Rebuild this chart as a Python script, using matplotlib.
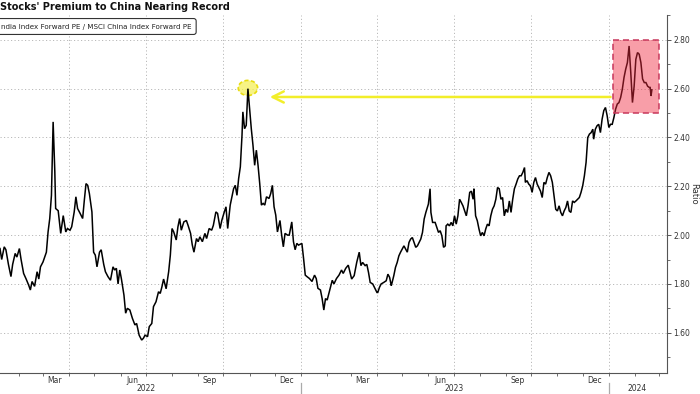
import matplotlib
matplotlib.use("Agg")
import matplotlib.pyplot as plt
import matplotlib.dates as mdates
import matplotlib.transforms as mtransforms
from matplotlib.ticker import MultipleLocator, FixedLocator, NullFormatter, FormatStrFormatter
from matplotlib.patches import Ellipse, Rectangle
import numpy as np
import pandas as pd

# ---------------- data ----------------
START = "2022-01-02"   # day offsets below are counted from this date

day_offsets = [
    7, 9, 12, 14, 17, 20, 22, 25, 27, 30,
    32, 35, 38, 41, 43, 45, 48, 51, 53, 55,
    58, 62, 64, 66, 68, 70, 72, 73, 76, 79,
    82, 85, 87, 90, 92, 95, 97, 99, 102, 105,
    107, 109, 111, 113, 116, 118, 120, 122, 125, 127,
    130, 132, 135, 138, 141, 143, 145, 147, 149, 151,
    154, 156, 158, 161, 164, 167, 169, 172, 175, 177,
    179, 182, 184, 187, 189, 192, 195, 197, 199, 201,
    204, 207, 209, 211, 213, 216, 218, 220, 222, 225,
    228, 230, 233, 235, 237, 240, 242, 244, 247, 250,
    252, 255, 258, 260, 263, 265, 268, 270, 273, 275,
    277, 280, 282, 284, 286, 288, 290, 292, 294, 295,
    297, 299, 301, 303, 305, 307, 309, 311, 313, 315,
    317, 319, 321, 323, 326, 328, 330, 332, 334, 336,
    339, 341, 343, 345, 348, 350, 353, 355, 357, 359,
    361, 365, 367, 369, 371, 374, 377, 380, 382, 384,
    387, 389, 391, 393, 395, 398, 401, 403, 406, 409,
    412, 414, 417, 420,
    424, 427, 430, 433, 435, 437, 440, 442, 444, 446,
    449, 451, 454, 455, 457, 459, 462, 465, 467, 469,
    471, 472, 474, 476, 478, 480, 482, 484, 486, 488,
    490, 492, 494, 496, 498, 500, 502, 504, 506, 508,
    510, 512, 515, 517, 518, 520, 523, 525, 527, 529,
    531, 533, 535, 536, 538, 540, 542, 544, 546, 548,
    550, 552, 554, 556, 558, 560, 562, 564, 566, 568,
    569, 571, 573, 575, 577, 579, 581, 583, 585, 587,
    589, 591, 593, 595, 597, 599, 601, 603, 605, 607,
    609, 611, 613, 615, 617, 619, 621, 623, 625, 627,
    629, 630, 632, 634, 636, 638, 640, 642, 644, 646,
    648, 650, 652, 654, 656, 658, 660, 662, 664, 666,
    668, 670, 672, 674, 676, 678, 680, 682, 684, 686,
    688, 690, 692, 694, 696, 698, 700, 702, 704, 706,
    708, 710, 711, 713, 715, 717, 719, 721, 723, 725,
    727, 729, 731, 733, 735, 737, 739, 741, 743, 745,
    747, 749, 751, 753, 755, 757, 759, 761, 763, 765,
    767, 769, 771, 773, 775, 777, 778, 779, 780,
]

ratio = [
    1.945, 1.90, 1.952, 1.94, 1.88, 1.83, 1.88, 1.925, 1.91, 1.945,
    1.90, 1.843, 1.82, 1.795, 1.775, 1.81, 1.79, 1.85, 1.82, 1.87,
    1.89, 1.93, 2.013, 2.068, 2.163, 2.464, 2.26, 2.109, 2.10, 2.007,
    2.08, 2.013, 2.027, 2.02, 2.034, 2.095, 2.157, 2.109, 2.089, 2.068,
    2.143, 2.211, 2.204, 2.17, 2.095, 1.93, 1.918, 1.87, 1.93, 1.94,
    1.88, 1.85, 1.83, 1.815, 1.87, 1.857, 1.864, 1.80, 1.857, 1.82,
    1.754, 1.68, 1.70, 1.693, 1.659, 1.632, 1.638, 1.59, 1.57, 1.577,
    1.59, 1.584, 1.625, 1.638, 1.707, 1.727, 1.768, 1.761, 1.788, 1.82,
    1.78, 1.85, 1.918, 2.027, 2.013, 1.98, 2.034, 2.068, 2.02, 2.054,
    2.06, 2.04, 2.007, 1.96, 1.93, 1.986, 1.973, 1.993, 1.973, 2.007,
    1.986, 2.027, 2.02, 2.04, 2.095, 2.089, 2.027, 2.06, 2.095, 2.116,
    2.027, 2.123, 2.157, 2.19, 2.204, 2.163, 2.232, 2.28, 2.41, 2.505,
    2.436, 2.45, 2.60, 2.518, 2.436, 2.368, 2.286, 2.348, 2.286, 2.211,
    2.123, 2.13, 2.123, 2.157, 2.15, 2.17, 2.204, 2.116, 2.082, 2.013,
    2.06, 2.0, 1.952, 2.007, 2.0, 2.0, 2.054, 1.973, 1.94, 1.966,
    1.959, 1.966, 1.904, 1.836, 1.83, 1.822, 1.81, 1.836, 1.822, 1.782,
    1.775, 1.74, 1.693, 1.74, 1.734, 1.775, 1.815, 1.80, 1.822, 1.836,
    1.857, 1.843, 1.864, 1.877,
    1.82, 1.834, 1.888, 1.93, 1.875, 1.888, 1.875, 1.88, 1.847, 1.806,
    1.80, 1.786, 1.765, 1.765, 1.786, 1.80, 1.806, 1.813, 1.84, 1.827,
    1.793, 1.806, 1.834, 1.868, 1.888, 1.915, 1.93, 1.943, 1.956, 1.943,
    1.93, 1.97, 1.984, 1.99, 1.97, 1.95, 1.956, 1.97, 1.984, 2.011,
    2.066, 2.093, 2.127, 2.19, 2.093, 2.052, 2.052, 2.031, 2.011, 2.018,
    1.997, 1.95, 1.956, 2.038, 2.045, 2.038, 2.052, 2.038, 2.079, 2.045,
    2.079, 2.147, 2.134, 2.12, 2.10, 2.079, 2.12, 2.175, 2.18, 2.147,
    2.19, 2.079, 2.059, 2.025, 1.997, 2.011, 1.997, 2.025, 2.045, 2.038,
    2.079, 2.106, 2.12, 2.147, 2.195, 2.19, 2.147, 2.154, 2.079, 2.106,
    2.093, 2.14, 2.093, 2.147, 2.19, 2.209, 2.23, 2.243, 2.243, 2.257,
    2.277, 2.216, 2.223, 2.209, 2.202, 2.175, 2.216, 2.236, 2.209, 2.195,
    2.18, 2.154, 2.216, 2.209, 2.236, 2.257, 2.243, 2.216, 2.161, 2.106,
    2.099, 2.12, 2.093, 2.079, 2.099, 2.113, 2.14, 2.099, 2.093, 2.14,
    2.134, 2.14, 2.147, 2.154, 2.175, 2.202, 2.243, 2.298, 2.40, 2.414,
    2.42, 2.434, 2.393, 2.434, 2.448, 2.454, 2.42, 2.475, 2.51, 2.523,
    2.489, 2.441, 2.454, 2.454, 2.482, 2.516, 2.537, 2.543, 2.564, 2.598,
    2.646, 2.68, 2.707, 2.775, 2.666, 2.543, 2.61, 2.72, 2.748, 2.741,
    2.707, 2.64, 2.625, 2.625, 2.61, 2.605, 2.605, 2.57, 2.595,
]

y_ticks = [1.60, 1.80, 2.00, 2.20, 2.40, 2.60, 2.80]
title_text = "Stocks' Premium to China Nearing Record"
legend_text = "ndia Index Forward PE / MSCI China Index Forward PE"
year_labels = ["2022", "2023", "2024"]

# previous-record marker and current highlight (annotation data)
prev_peak_date, prev_peak_value = "2022-10-30", 2.603
arrow_value = 2.566
arrow_from, arrow_to = "2024-01-03", "2022-11-25"
box_start, box_end = "2024-01-06", "2024-03-01"
box_low, box_high = 2.50, 2.80

# ---------------- figure ----------------
fig = plt.figure(figsize=(7.0, 3.94), dpi=100)
ax = fig.add_axes([0.0, 0.0533, 0.9529, 0.9087])

dates = pd.Timestamp(START) + pd.to_timedelta(day_offsets, unit="D")
grid_kw = dict(color="#b9b9b9", lw=0.7, ls=(0, (1.2, 2.4)), zorder=1)

ax.plot(dates, ratio, color="black", lw=1.1, zorder=3, solid_joinstyle="miter")

ax.set_xlim(pd.Timestamp("2022-01-09"), pd.Timestamp("2024-03-10"))
ax.set_ylim(1.435, 2.902)

# horizontal grid
for yv in y_ticks:
    ax.axhline(yv, **grid_kw)
# vertical grid at quarter starts
for d in pd.date_range("2022-04-01", "2024-01-01", freq="QS"):
    ax.axvline(d, **grid_kw)

# spines
for s in ["top", "left"]:
    ax.spines[s].set_visible(False)
for s in ["right", "bottom"]:
    ax.spines[s].set_color("#555555")
    ax.spines[s].set_linewidth(0.8)

# y axis on the right
ax.yaxis.tick_right()
ax.yaxis.set_label_position("right")
ax.yaxis.set_major_locator(FixedLocator(y_ticks))
ax.yaxis.set_major_formatter(FormatStrFormatter("%.2f"))
ax.yaxis.set_minor_locator(MultipleLocator(0.1))
ax.tick_params(axis="y", which="major", length=3, width=0.7, color="#555555",
               labelsize=5.5, labelcolor="#333333", pad=1.5)
ax.tick_params(axis="y", which="minor", length=2, width=0.6, color="#555555")
ax.set_ylabel("Ratio", rotation=270, fontsize=6, color="#333333", labelpad=6)

# x axis: monthly ticks, labels mid-quarter-end months
ax.xaxis.set_major_locator(mdates.MonthLocator())
ax.xaxis.set_major_formatter(NullFormatter())
ax.xaxis.set_minor_locator(mdates.MonthLocator(bymonth=[3, 6, 9, 12], bymonthday=15))
ax.xaxis.set_minor_formatter(mdates.DateFormatter("%b"))
ax.tick_params(axis="x", which="major", length=2.5, width=0.6, color="#555555",
               direction="out")
ax.tick_params(axis="x", which="minor", length=0, labelsize=5.5,
               labelcolor="#333333", pad=2.5)

trans = mtransforms.blended_transform_factory(ax.transData, ax.transAxes)
year_centers = [pd.Timestamp("2022-07-01"), pd.Timestamp("2023-07-01"),
                pd.Timestamp("2024-02-03")]
for lab, c in zip(year_labels, year_centers):
    ax.text(c, -0.043, lab, transform=trans, ha="center", va="center",
            fontsize=5.5, color="#333333")
for d in ["2023-01-01", "2024-01-01"]:
    ax.plot([pd.Timestamp(d)] * 2, [-0.027, -0.06], transform=trans,
            color="#aaaaaa", lw=0.9, clip_on=False)

# ---------------- annotations ----------------
x0 = mdates.date2num(pd.Timestamp(box_start))
x1 = mdates.date2num(pd.Timestamp(box_end))
ax.add_patch(Rectangle((x0, box_low), x1 - x0, box_high - box_low,
                       facecolor="#f0283e", alpha=0.45, edgecolor="none", zorder=4))
ax.add_patch(Rectangle((x0, box_low), x1 - x0, box_high - box_low,
                       facecolor="none", edgecolor="#c8385c", lw=1.1,
                       ls=(0, (4, 2.5)), zorder=5))

ex = mdates.date2num(pd.Timestamp(prev_peak_date))
ax.add_patch(Ellipse((ex, prev_peak_value), 23, 0.062, facecolor="#f5ee50",
                     alpha=0.7, edgecolor="none", zorder=2))
ax.add_patch(Ellipse((ex, prev_peak_value), 23, 0.062, facecolor="none",
                     edgecolor="#e8dc10", lw=1.2, ls=(0, (2.5, 1.5)), zorder=2))

ax.annotate("", xy=(pd.Timestamp(arrow_to), arrow_value),
            xytext=(pd.Timestamp(arrow_from), arrow_value),
            arrowprops=dict(arrowstyle="->,head_length=0.8,head_width=0.4",
                            color="#f2ee2a", lw=1.8, shrinkA=0, shrinkB=0),
            zorder=4)

# ---------------- title and legend ----------------
fig.text(0.0, 1 - 7.5 / 394, title_text, fontsize=7.05, fontweight="bold",
         color="#111111", ha="left", va="center")
fig.text(0.001, 1 - 26.5 / 394, legend_text, fontsize=5.1, color="#222222",
         ha="left", va="center",
         bbox=dict(boxstyle="round,pad=0.7,rounding_size=0.35",
                   facecolor="white", edgecolor="#333333", lw=0.8))

fig.savefig("out.png", dpi=100)
